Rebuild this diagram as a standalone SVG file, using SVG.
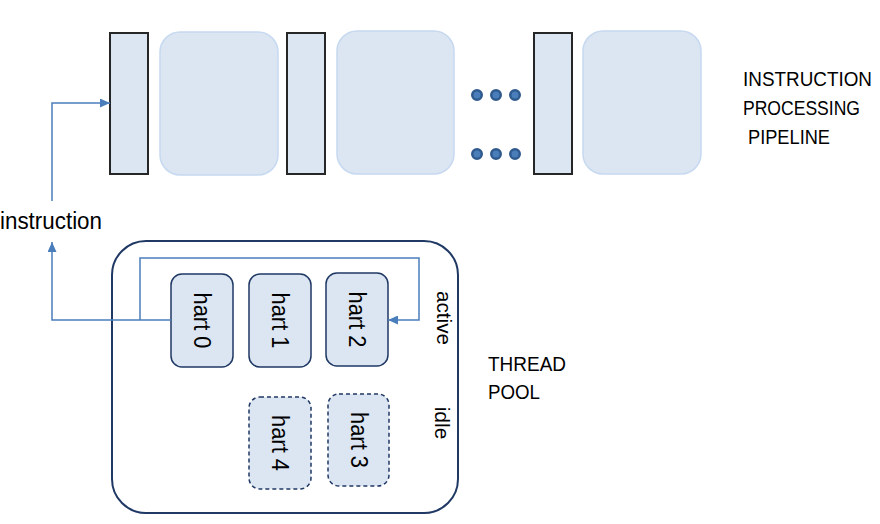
<svg xmlns="http://www.w3.org/2000/svg" width="880" height="524" viewBox="0 0 880 524">
<style>
.reg{fill:#dce6f2;stroke:#262626;stroke-width:2}
.stage{fill:#dce6f2;stroke:#c6d9f0;stroke-width:1.5}
.pool{fill:none;stroke:#1f3864;stroke-width:2}
.hart{fill:#dce6f2;stroke:#1f3864;stroke-width:1.5}
.idle{stroke-dasharray:4 3}
.dot{fill:#4a7ebb;stroke:#2f5a8e;stroke-width:2.5}
.conn{fill:none;stroke:#4a7ebb;stroke-width:1.5}
.t{font-family:"Liberation Sans",Arial,sans-serif;fill:#000}
</style>
<defs>
<marker id="arr" markerUnits="userSpaceOnUse" markerWidth="11" markerHeight="9" refX="10" refY="4.5" orient="auto">
<path d="M0,0 L10,4.5 L0,9 z" fill="#4a7ebb"/>
</marker>
</defs>
<rect width="880" height="524" fill="#fff"/>

<g id="pipeline">
<g id="reg1"><rect class="reg" x="110" y="33" width="38" height="141"/></g>
<g id="stage1"><rect class="stage" x="160" y="32" width="118" height="143" rx="20"/></g>
<g id="reg2"><rect class="reg" x="287" y="33" width="38" height="141"/></g>
<g id="stage2"><rect class="stage" x="337" y="31" width="117" height="143" rx="20"/></g>
<g id="dots">
<circle class="dot" cx="477" cy="95" r="4.75"/>
<circle class="dot" cx="496" cy="95" r="4.75"/>
<circle class="dot" cx="515" cy="95" r="4.75"/>
<circle class="dot" cx="477" cy="154" r="4.75"/>
<circle class="dot" cx="496" cy="154" r="4.75"/>
<circle class="dot" cx="515" cy="154" r="4.75"/>
</g>
<g id="reg3"><rect class="reg" x="534" y="33" width="38" height="141"/></g>
<g id="stage3"><rect class="stage" x="583" y="31" width="118" height="143" rx="20"/></g>
<g id="pipeline-label">
<text class="t" x="743" y="86" font-size="19.5" textLength="129" lengthAdjust="spacingAndGlyphs">INSTRUCTION</text>
<text class="t" x="743" y="115" font-size="19.5" textLength="117" lengthAdjust="spacingAndGlyphs">PROCESSING</text>
<text class="t" x="748" y="144" font-size="19.5" textLength="82" lengthAdjust="spacingAndGlyphs">PIPELINE</text>
</g>
</g>

<g id="instruction-label">
<text class="t" x="0" y="229" font-size="23" textLength="102" lengthAdjust="spacingAndGlyphs">instruction</text>
</g>

<g id="thread-pool">
<rect class="pool" x="112" y="241" width="346" height="272" rx="34"/>
<text class="t" x="488" y="371" font-size="21" textLength="78" lengthAdjust="spacingAndGlyphs">THREAD</text>
<text class="t" x="488" y="399" font-size="21" textLength="52" lengthAdjust="spacingAndGlyphs">POOL</text>
<text class="t" font-size="21" text-anchor="middle" transform="translate(437,318) rotate(90)" textLength="54" lengthAdjust="spacingAndGlyphs">active</text>
<text class="t" font-size="21" text-anchor="middle" transform="translate(435,423) rotate(90)">idle</text>
</g>

<g id="hart0">
<rect class="hart" x="171" y="274" width="62" height="93" rx="11"/>
<text class="t" font-size="23" text-anchor="middle" transform="translate(194,320.5) rotate(90)" textLength="56" lengthAdjust="spacingAndGlyphs">hart 0</text>
</g>
<g id="hart1">
<rect class="hart" x="249" y="274" width="62" height="93" rx="11"/>
<text class="t" font-size="23" text-anchor="middle" transform="translate(272,320.5) rotate(90)" textLength="56" lengthAdjust="spacingAndGlyphs">hart 1</text>
</g>
<g id="hart2">
<rect class="hart" x="326" y="273" width="62" height="93" rx="11"/>
<text class="t" font-size="23" text-anchor="middle" transform="translate(349,319.5) rotate(90)" textLength="56" lengthAdjust="spacingAndGlyphs">hart 2</text>
</g>
<g id="hart4">
<rect class="hart idle" x="249" y="397" width="62" height="92" rx="11"/>
<text class="t" font-size="23" text-anchor="middle" transform="translate(272,443) rotate(90)" textLength="56" lengthAdjust="spacingAndGlyphs">hart 4</text>
</g>
<g id="hart3">
<rect class="hart idle" x="328" y="394" width="61" height="92" rx="11"/>
<text class="t" font-size="23" text-anchor="middle" transform="translate(351,440) rotate(90)" textLength="56" lengthAdjust="spacingAndGlyphs">hart 3</text>
</g>

<g id="connectors">
<path class="conn" d="M52,201 V103 H110" marker-end="url(#arr)"/>
<path class="conn" d="M171,320 H52 V242" marker-end="url(#arr)"/>
<path class="conn" d="M140,320 V258 H419 V320 H388" marker-end="url(#arr)"/>
</g>
</svg>
